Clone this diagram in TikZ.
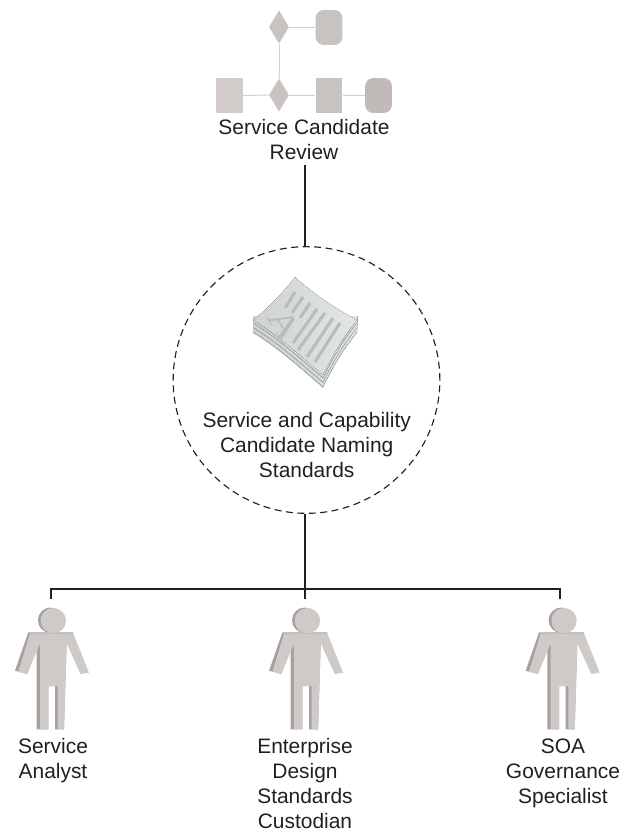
\documentclass[tikz,border=0pt]{standalone}
\usepackage{fontspec}
\setmainfont{Liberation Sans}
\usetikzlibrary{shapes.geometric}
\definecolor{flowA}{HTML}{D2CCCA}
\definecolor{flowB}{HTML}{C8C3C0}
\definecolor{flowC}{HTML}{C0BBB8}
\definecolor{flowL}{HTML}{D3CFCD}
\definecolor{manFront}{HTML}{CFCAC8}
\definecolor{manSide}{HTML}{A5A1A0}
\definecolor{docL}{HTML}{CED2D2}
\definecolor{docR}{HTML}{E2E6E6}
\definecolor{docEdge}{HTML}{B9BEBE}
\definecolor{docInk}{HTML}{B7BCBC}
\definecolor{txt}{HTML}{231F20}
\tikzset{
  x=0.75pt,y=-0.75pt,
  flowline/.style={draw=flowL,line width=0.7pt},
  link/.style={draw=txt,line width=0.85pt},
  lab/.style={align=center,text=txt,font=\fontsize{15.7}{18.75}\selectfont,inner sep=0pt},
  sq/.style={inner sep=0pt,minimum width=20pt,minimum height=26.2pt,fill=flowA},
  rd/.style={sq,rounded corners=6pt},
  dia/.style={diamond,inner sep=0pt,minimum width=15pt,minimum height=25pt,fill=flowB},
  pics/man/.style={code={
    \fill[manSide] (-2.7,-0.5) circle[radius=12.7];
    \fill[manSide] (-25,11.7) -- (20,11.7) -- (20,12.7) -- (13.3,22.7) -- (10.7,108.7) -- (1.7,108.7) -- (1.7,65.3) -- (-5,65.3) -- (-5,108.7) -- (-16.7,108.7) -- (-16.7,25) -- (-26,53.3) -- (-38.3,50) -- cycle;
    \fill[manFront] (-23.3,12.7) -- (20,12.7) -- (35.7,52) -- (27.3,53.3) -- (13.3,22.7) -- (10.7,108.7) -- (4.3,108.7) -- (4.3,65.3) -- (-5,65.3) -- (-5,108.7) -- (-13.3,108.7) -- (-13.3,22.7) -- (-26,53.3) -- (-35,51) -- cycle;
    \fill[manFront] (0,0) circle[radius=12.7];
  }}
}
\begin{document}
\begin{tikzpicture}
\useasboundingbox (0,0) rectangle (619,831);
% top flow
\node[dia] (d1) at (279,27) {};
\node[dia] (d2) at (279,95) {};
\node[sq,fill=flowA] (s1) at (229.5,95.5) {};
\node[sq,fill=flowB] (s2) at (329,95.5) {};
\node[rd,fill=flowB] (r1) at (329,27.5) {};
\node[rd,fill=flowC] (r2) at (378.5,95.5) {};
\draw[flowline] (d1.east) -- (d1.east -| r1.west);
\draw[flowline] (d1.south) -- (d2.north);
\draw[flowline] (s1.east) -- (d2.west);
\draw[flowline] (d2.east) -- (d2.east -| s2.west);
\draw[flowline] (d2.east -| s2.east) -- (d2.east -| r2.west);
\node[lab] (review) at (304,139.5) {Service Candidate\\Review};
% circle
\node[circle,draw=txt,dash pattern=on 5.2pt off 3.4pt,line width=0.85pt,minimum size=200pt,inner sep=0pt] (std) at (306.5,380) {};
\coordinate (revbot) at (305,165);
\draw[link] (revbot) -- (revbot |- std.north);
% document
\foreach \d in {13,8.5,4}{
  \fill[docEdge] (253,320+\d) .. controls (275,333+\d) and (300,355+\d) .. (323,375+\d) .. controls (335,350+\d) and (345,335+\d) .. (357,320+\d) -- (357,316) -- (253,316) -- cycle;
  \fill[left color=docL,right color=docR] (253,318.7+\d) .. controls (275,331.7+\d) and (300,353.7+\d) .. (323,373.5+\d) .. controls (335,348.7+\d) and (345,333.7+\d) .. (357,318.7+\d) -- (357,316) -- (253,316) -- cycle;
}
\fill[docEdge] (253,320) .. controls (275,333) and (300,355) .. (323,375) .. controls (335,350) and (345,335) .. (357,320) -- (323,370) -- cycle;
\fill[left color=docL,right color=docR] (295,277) .. controls (317,297) and (340,311) .. (357,320) .. controls (345,335) and (335,350) .. (323,375) .. controls (300,355) and (275,333) .. (253,320) .. controls (270,307) and (285,290) .. (295,277) -- cycle;
\begin{scope}[docInk,line width=2.3pt]
\draw (295,292) -- (285,308);
\draw (303,297) -- (292,313);
\draw (310,303) -- (300,318);
\draw (317,309) -- (293,343);
\draw (325,313) -- (298,350);
\draw (333,318) -- (307,357);
\draw (340,323) -- (315,362);
\end{scope}
\node[font=\fontsize{26}{26}\selectfont,text=docInk,rotate=-58,xscale=1.25,inner sep=0pt] (glyph) at (284,325) {\fontspec{Liberation Serif}A};
\node[lab] (stdlab) at (306.7,445.5) {Service and Capability\\Candidate Naming\\Standards};
% people
\coordinate (j1) at (305,589);
\coordinate (a) at (51,599);
\coordinate (b) at (305,599);
\coordinate (c) at (560,599);
\draw[link] (j1 |- std.south) -- (b);
\draw[link] (a) -- (a |- j1) -- (c |- j1) -- (c);
\pic at (53.3,620.7) {man};
\pic at (307.4,620.7) {man};
\pic at (564,620.7) {man};
\node[lab] (p1) at (53,761) {Service\\Analyst};
\node[lab] (p2) at (305,783.5) {Enterprise\\Design\\Standards\\Custodian};
\node[lab] (p3) at (563,773) {SOA\\Governance\\Specialist};
\end{tikzpicture}
\end{document}
